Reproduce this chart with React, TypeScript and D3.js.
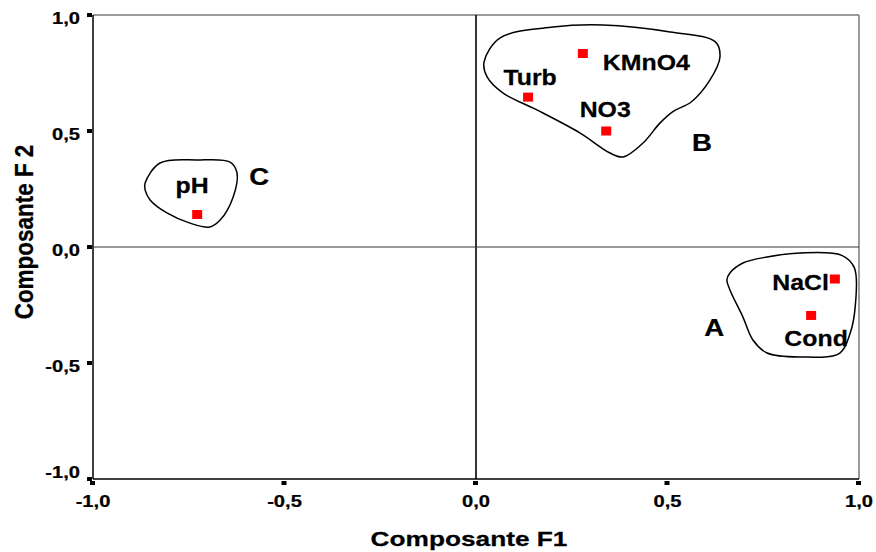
import React from "react";
import * as d3 from "d3";

const W = 876;
const H = 552;

// variables: [name, F1, F2]
const varNames = ["pH", "Turb", "KMnO4", "NO3", "NaCl", "Cond"];
const f1Values = [-0.728, 0.136, 0.279, 0.340, 0.937, 0.875];
const f2Values = [0.140, 0.646, 0.834, 0.500, -0.138, -0.295];

const xTicks = [-1.0, -0.5, 0.0, 0.5, 1.0];
const yTicks = [-1.0, -0.5, 0.0, 0.5, 1.0];

// group letters and their position (data coordinates)
const groupNames = ["A", "B", "C"];
const groupF1 = [0.622, 0.590, -0.566];
const groupF2 = [-0.382, 0.412, 0.267];

// hand-drawn outlines (data coordinates)
const contourA: [number, number][] = [
  [0.663, -0.112], [0.697, -0.069], [0.760, -0.043], [0.846, -0.026], [0.955, -0.036],
  [0.988, -0.090], [0.990, -0.259], [0.977, -0.371], [0.950, -0.457], [0.846, -0.474],
  [0.760, -0.457], [0.723, -0.401], [0.697, -0.302], [0.663, -0.185], [0.655, -0.142],
];
const contourB: [number, number][] = [
  [0.021, 0.797], [0.063, 0.901], [0.201, 0.948], [0.332, 0.957], [0.507, 0.927],
  [0.625, 0.884], [0.637, 0.819], [0.611, 0.720], [0.562, 0.625], [0.515, 0.585],
  [0.480, 0.534], [0.436, 0.448], [0.384, 0.388], [0.350, 0.405], [0.272, 0.491],
  [0.159, 0.591], [0.070, 0.664], [0.029, 0.733],
];
const contourC: [number, number][] = [
  [-0.864, 0.276], [-0.825, 0.362], [-0.728, 0.375], [-0.642, 0.366], [-0.624, 0.319],
  [-0.634, 0.216], [-0.668, 0.116], [-0.695, 0.086], [-0.747, 0.103], [-0.807, 0.147],
  [-0.851, 0.203], [-0.864, 0.246],
];
const contours = [contourA, contourB, contourC];

// label placement relative to each point (pixels): dx, dy, anchor
const labelDx = [-5, 2, 20, -1, -6, 5];
const labelDy = [-22, -12, 16, -14, 11, 31];
const labelAnchor = ["middle", "middle", "start", "middle", "end", "middle"];

const FONT = "'Liberation Sans', Arial, Helvetica, sans-serif";

const x = d3.scaleLinear().domain([-1, 1]).range([93, 859]);
const y = d3.scaleLinear().domain([-1, 1]).range([479, 15]);

function T(props: {
  x: number; y: number; text: string; size: number; anchor?: string;
  sx?: number; sy?: number; rot?: number; fill?: string;
}) {
  const { text, size, anchor = "middle", sx = 1, sy = 1, rot = 0, fill = "#000" } = props;
  return (
    <text
      transform={`translate(${props.x},${props.y}) rotate(${rot}) scale(${sx},${sy})`}
      textAnchor={anchor as any}
      fontFamily={FONT}
      fontWeight="bold"
      fontSize={size}
      fill={fill}
      stroke={fill}
      strokeWidth={0.25}
    >
      {text}
    </text>
  );
}

export default function App() {
  const line = d3
    .line<[number, number]>()
    .x((d) => x(d[0]))
    .y((d) => y(d[1]))
    .curve(d3.curveCatmullRomClosed.alpha(0.5));

  const fmt = (v: number) => v.toFixed(1).replace(".", ",");
  const [x0, x1] = x.range();
  const [y0, y1] = y.range();

  return (
    <svg
      width={W}
      height={H}
      style={{ position: "absolute", left: 0, top: 0, background: "#fff" }}
    >
      {/* frame */}
      <line x1={x0} x2={x1} y1={y1} y2={y1} stroke="#7a7a7a" strokeWidth={1.5} />
      <line x1={x1} x2={x1} y1={y1} y2={y0} stroke="#7a7a7a" strokeWidth={1.5} />
      <line x1={x0} x2={x1} y1={y0} y2={y0} stroke="#000" strokeWidth={1.5} />
      <line x1={x0} x2={x0} y1={y1} y2={y0} stroke="#000" strokeWidth={1.5} />

      {/* zero lines */}
      <line x1={x(0)} x2={x(0)} y1={y1} y2={y0} stroke="#000" strokeWidth={1.6} />
      <line x1={x0} x2={x1} y1={y(0)} y2={y(0)} stroke="#333" strokeWidth={1} />

      {/* y ticks */}
      {yTicks.map((t) => (
        <g key={"yt" + t}>
          <rect x={x0 - 6} y={y(t) - 2} width={5} height={4} fill="#000" />
          <T
            x={80}
            y={Math.min(y(t) + 3, y0 - 7) + 6}
            text={fmt(t)}
            size={16.5}
            anchor="end"
            sx={1.22}
          />
        </g>
      ))}

      {/* x ticks */}
      {xTicks.map((t) => (
        <g key={"xt" + t}>
          <rect x={x(t) - 3} y={y0 + 2} width={5} height={4} fill="#000" />
          <T x={x(t)} y={y0 + 28} text={fmt(t)} size={16.5} sx={1.22} />
        </g>
      ))}

      {/* axis titles */}
      <T x={469} y={546} text="Composante F1" size={21} sx={1.25} />
      <T x={33} y={232} text="Composante F 2" size={21} rot={-90} sx={1.07} sy={1.2} />

      {/* outlines */}
      {contours.map((c, i) => (
        <path key={"c" + i} d={line(c) || ""} fill="none" stroke="#000" strokeWidth={1.5} />
      ))}

      {/* points */}
      {varNames.map((n, i) => (
        <rect
          key={"p" + n}
          x={x(f1Values[i]) - 5}
          y={y(f2Values[i]) - 4.5}
          width={10}
          height={9}
          fill="#ff0000"
        />
      ))}

      {/* point labels */}
      {varNames.map((n, i) => (
        <T
          key={"l" + n}
          x={x(f1Values[i]) + labelDx[i]}
          y={y(f2Values[i]) + labelDy[i]}
          text={n}
          size={22}
          anchor={labelAnchor[i]}
          sx={1.13}
        />
      ))}

      {/* group letters */}
      {groupNames.map((g, i) => (
        <T key={"g" + g} x={x(groupF1[i])} y={y(groupF2[i])} text={g} size={23} sx={1.2} />
      ))}
    </svg>
  );
}
